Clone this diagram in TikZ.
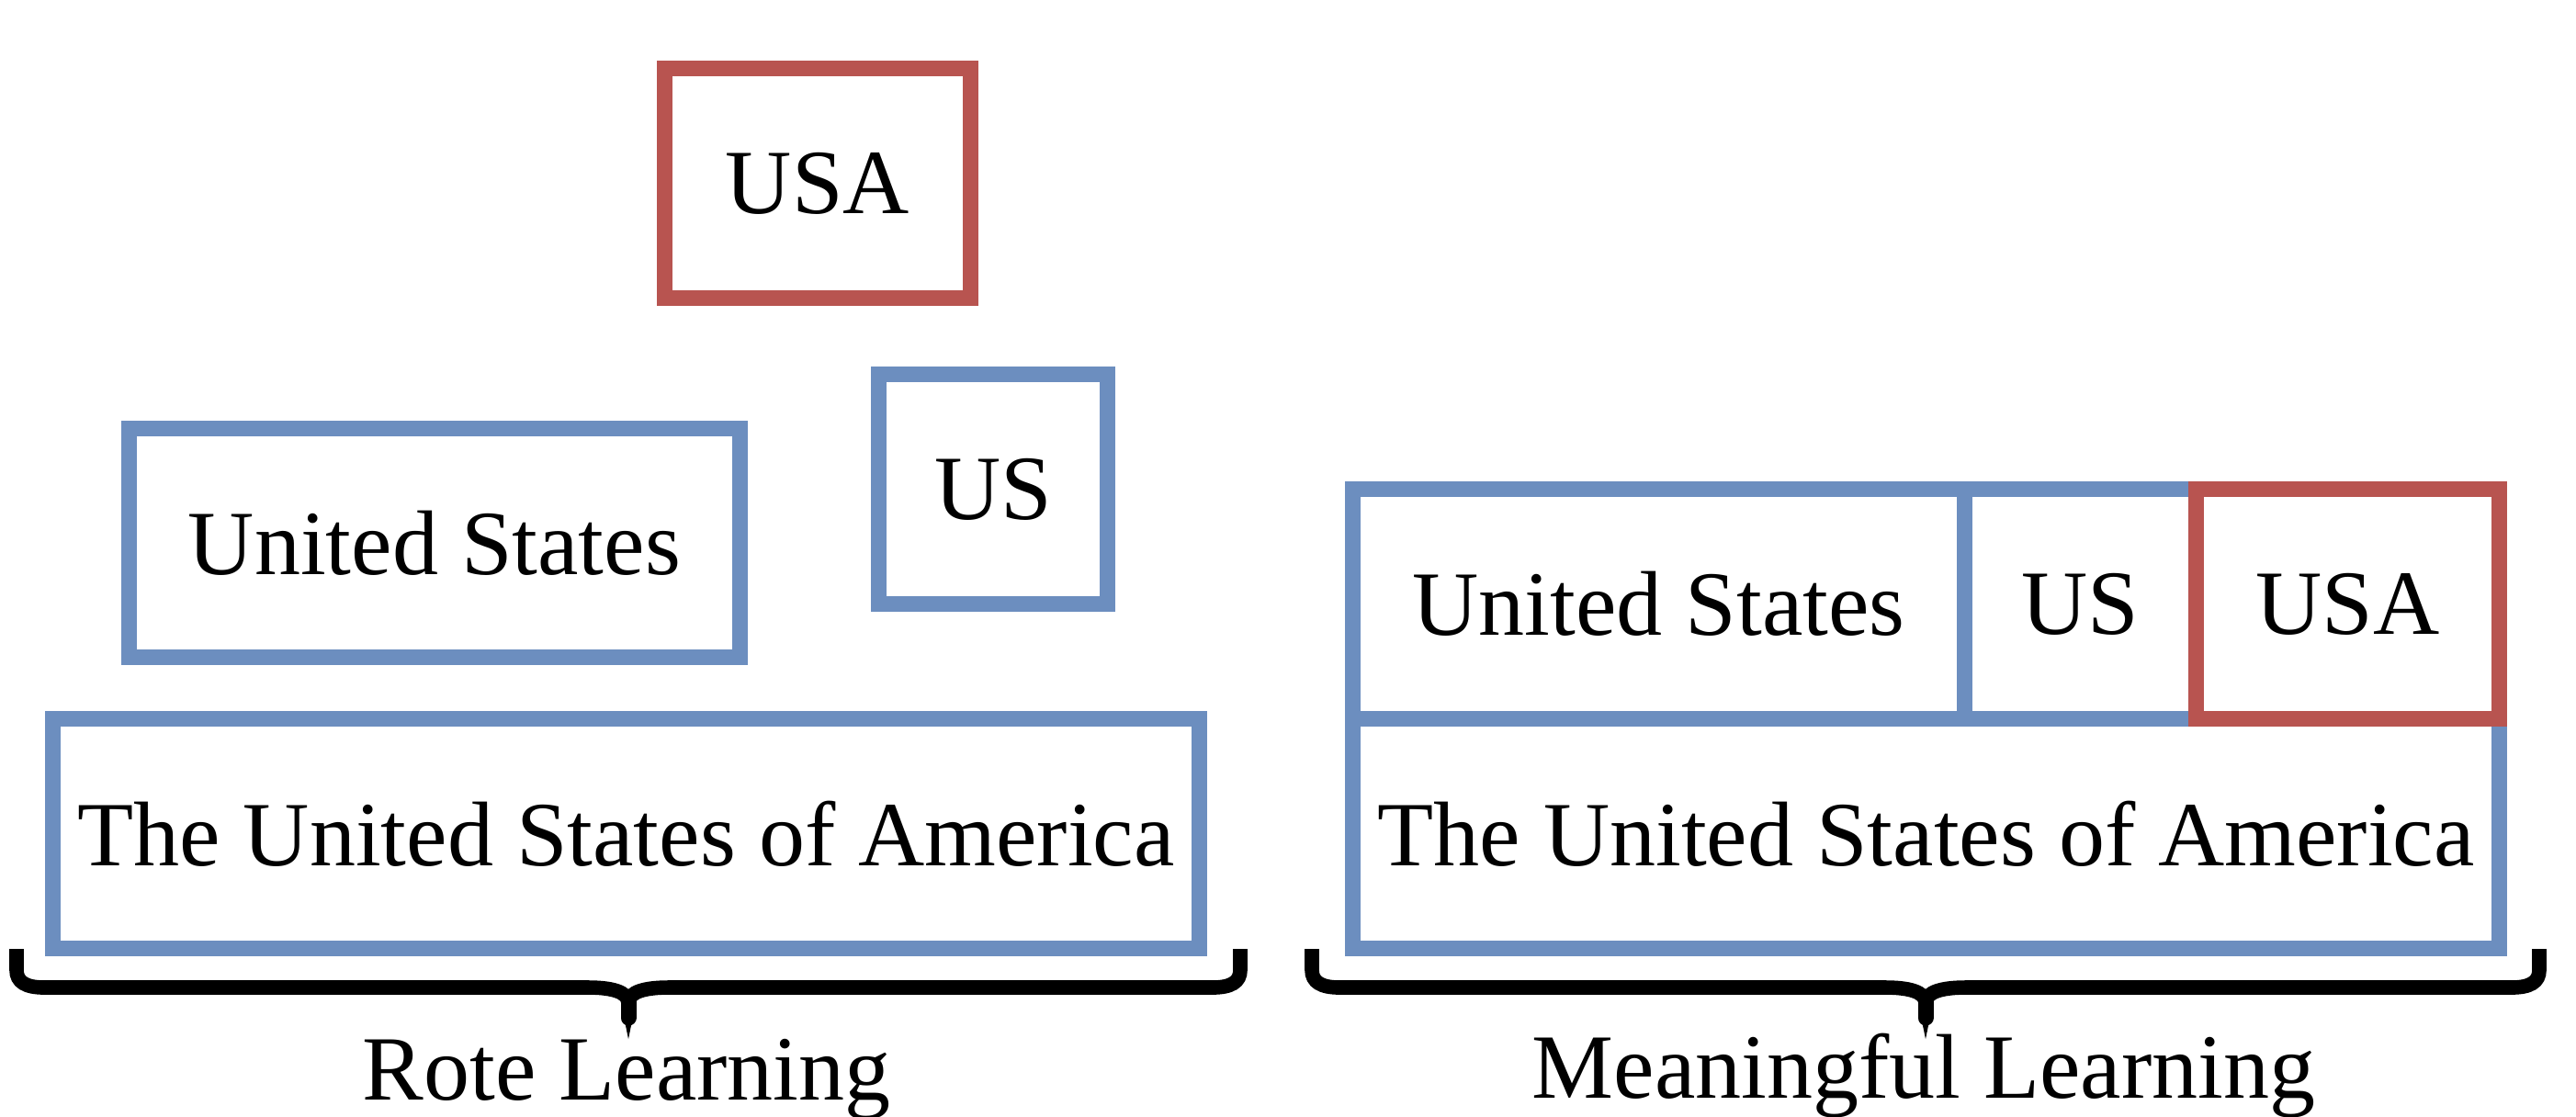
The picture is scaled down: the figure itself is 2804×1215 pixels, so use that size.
\documentclass[tikz,border=0pt]{standalone}
\usepackage{fontspec}
\setmainfont{Liberation Serif}
\definecolor{boxblue}{HTML}{6C8EBF}
\definecolor{boxred}{HTML}{B85450}
\newcommand{\mybrace}[2]{%
  \draw[bracepath] (#1,1033) -- (#1,1056)
    .. controls (#1,1069) and ({#1+10},1075) .. ({#1+30},1075)
    -- ({(#1+#2)/2-44},1075)
    .. controls ({(#1+#2)/2-20},1075) and ({(#1+#2)/2},1079) .. ({(#1+#2)/2},1092)
    .. controls ({(#1+#2)/2},1079) and ({(#1+#2)/2+20},1075) .. ({(#1+#2)/2+44},1075)
    -- ({#2-30},1075)
    .. controls ({#2-10},1075) and (#2,1069) .. (#2,1056) -- (#2,1033);
  \draw[bracepath, line width=4.25pt, line cap=round] ({(#1+#2)/2},1086) -- ({(#1+#2)/2},1108);}
\begin{document}
\begin{tikzpicture}[x=0.25pt,y=-0.25pt,
  boxcell/.style={draw, line width=4.25pt, inner sep=0pt, font=\fontsize{25pt}{30pt}\selectfont},
  bluecell/.style={boxcell, draw=boxblue},
  redcell/.style={boxcell, draw=boxred},
  bracepath/.style={line width=3.9pt, draw=black},
  grouplabel/.style={font=\fontsize{25pt}{30pt}\selectfont, anchor=base, inner sep=0pt}]
\useasboundingbox (0,0) rectangle (2804,1215);
% Rote learning
\node[redcell, minimum width=83.25pt, minimum height=62.5pt] (rUSA) at (890,199.5) {USA};
\node[bluecell, minimum width=62.25pt, minimum height=62.5pt] (rUS) at (1081,532.5) {US};
\node[bluecell, minimum width=166.25pt, minimum height=62.25pt] (rUnited) at (473,591) {United States};
\node[bluecell, minimum width=312pt, minimum height=62.5pt] (rFull) at (681.5,907.5) {The United States of America};
% Meaningful learning
\node[bluecell, minimum width=312pt, minimum height=62.5pt] (mFull) at (2096.5,907.5) {The United States of America};
\node[bluecell, minimum width=166.5pt, minimum height=62.5pt] (mUnited) at (1805.5,657.5) {United States};
\node[bluecell, minimum width=63pt, minimum height=62.5pt] (mUS) at (2264.5,657.5) {US};
\node[redcell, minimum width=82.5pt, minimum height=62.5pt] (mUSA) at (2555.5,657.5) {USA};
% braces
\mybrace{18}{1350}
\mybrace{1428}{2764}
% labels
\node[grouplabel] (rLabel) at (682,1197) {Rote Learning};
\node[grouplabel] (mLabel) at (2094,1195) {Meaningful Learning};
\end{tikzpicture}
\end{document}
